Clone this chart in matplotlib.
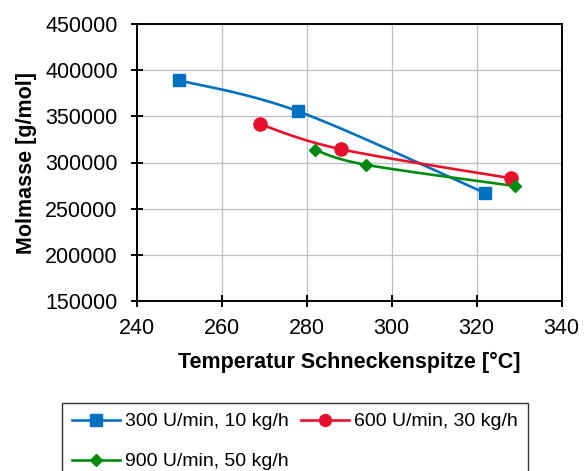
import numpy as np
import matplotlib
matplotlib.use('Agg')
import matplotlib.pyplot as plt

plt.rcParams['font.family'] = ['Liberation Sans', 'DejaVu Sans']

# data
temp_300 = [250, 278, 322]
mass_300 = [389000, 355500, 267000]
temp_600 = [269, 288, 328]
mass_600 = [341500, 314500, 283000]
temp_900 = [282, 294, 329]
mass_900 = [313500, 297500, 274500]

labels = ['300 U/min, 10 kg/h', '600 U/min, 30 kg/h', '900 U/min, 50 kg/h']
colors = ['#0070C0', '#E8112D', '#008A0E']
markers = ['s', 'o', 'D']
msizes = [9, 9.5, 6.5]


# Excel-like smoothed line (bezier through points, done in display space)
def smooth_line(ax, xs, ys, n=40):
    pts = ax.transData.transform(np.column_stack([xs, ys]))
    p = np.vstack([pts[0], pts, pts[-1]])
    out = []
    for i in range(1, len(p) - 2):
        p0, p3 = p[i], p[i + 1]
        c1 = p0 + (p[i + 1] - p[i - 1]) / 6
        c2 = p3 - (p[i + 2] - p[i]) / 6
        t = np.linspace(0, 1, n)[:, None]
        seg = ((1 - t) ** 3) * p0 + 3 * ((1 - t) ** 2) * t * c1 \
            + 3 * (1 - t) * t ** 2 * c2 + t ** 3 * p3
        out.append(seg)
    out = np.vstack(out)
    return ax.transData.inverted().transform(out)


fig = plt.figure(figsize=(5.87, 4.71), dpi=100)
ax = fig.add_axes([136.5 / 587, 1 - 301 / 471, 425 / 587, 277 / 471])
ax.set_xlim(240, 340)
ax.set_ylim(150000, 450000)
ax.set_xticks(np.arange(240, 341, 20))
ax.set_yticks(np.arange(150000, 450001, 50000))
ax.grid(True, color='#bfbfbf', linewidth=0.9)
ax.set_axisbelow(True)
for s in ax.spines.values():
    s.set_linewidth(1.4)
    s.set_color('black')
ax.tick_params(direction='inout', length=9, width=1.4, labelsize=15.5)
ax.tick_params(axis='x', pad=8)
ax.tick_params(axis='y', pad=9)

handles = []
series = [(temp_300, mass_300), (temp_600, mass_600), (temp_900, mass_900)]
for (xs, ys), lab, c, m, ms in zip(series, labels, colors, markers, msizes):
    curve = smooth_line(ax, xs, ys)
    ax.plot(curve[:, 0], curve[:, 1], color=c, linewidth=1.9, zorder=3)
    ax.plot(xs, ys, linestyle='none', marker=m, color=c, markersize=ms, zorder=4)
    h, = ax.plot([], [], color=c, linewidth=1.9, marker=m, markersize=ms * 0.9)
    handles.append(h)

ax.set_xlabel('Temperatur Schneckenspitze [°C]', fontsize=15.5, fontweight='bold', labelpad=9)
ax.set_ylabel('Molmasse [g/mol]', fontsize=15.5, fontweight='bold', labelpad=6)

# legend fills column-wise: blue, green in col 1, red in col 2
order = [0, 2, 1]
leg = fig.legend([handles[i] for i in order], [labels[i] for i in order],
                 loc='upper left', ncol=2,
                 bbox_to_anchor=(62 / 587, 1 - 403 / 471), fontsize=14,
                 frameon=True, fancybox=False, edgecolor='black',
                 borderpad=0.5, labelspacing=1.15, handlelength=2.5,
                 handletextpad=0.25, columnspacing=0.6, borderaxespad=0)
leg.get_frame().set_linewidth(1.0)

fig.savefig('out.png', dpi=100)
